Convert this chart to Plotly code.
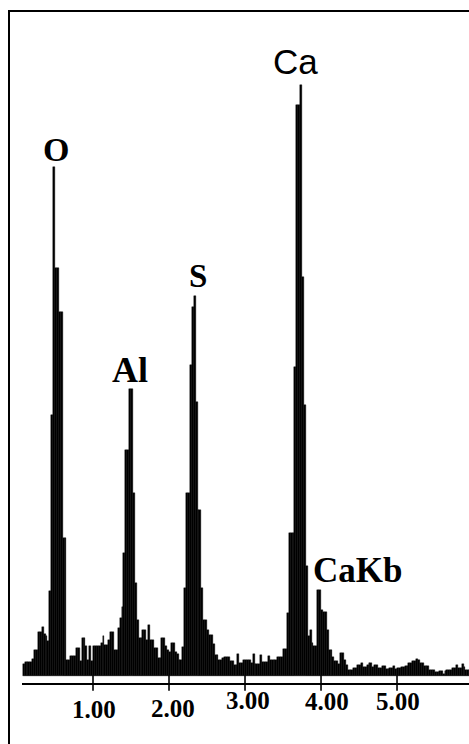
import numpy as np
import plotly.graph_objects as go

# ---- data -------------------------------------------------------------
CH0 = 0.075        # keV, start of first channel
CH_WIDTH = 0.025   # keV per channel
COUNTS = [
    12, 14, 14, 14, 14, 17, 26, 26, 44, 44,
    49, 42, 40, 35, 85, 261, 509, 408, 408, 364,
    364, 138, 138, 16, 16, 20, 20, 20, 28, 28,
    15, 38, 38, 30, 16, 30, 15, 30, 30, 30,
    30, 33, 40, 31, 31, 36, 44, 44, 26, 26,
    48, 58, 69, 123, 226, 226, 287, 287, 183, 93,
    56, 38, 38, 46, 46, 36, 51, 36, 36, 28,
    28, 18, 18, 38, 38, 30, 26, 24, 33, 33,
    24, 22, 16, 16, 29, 88, 183, 183, 311, 369,
    380, 274, 166, 166, 88, 56, 56, 46, 41, 41,
    32, 21, 21, 16, 16, 18, 19, 19, 19, 15,
    15, 11, 11, 22, 13, 13, 16, 16, 16, 16,
    13, 22, 12, 12, 12, 21, 14, 14, 14, 20,
    16, 16, 16, 16, 19, 19, 19, 27, 27, 63,
    143, 143, 143, 309, 571, 571, 591, 399, 271, 110,
    40, 46, 33, 30, 30, 86, 86, 66, 64, 64,
    46, 26, 26, 19, 15, 15, 12, 23, 23, 16,
    11, 6, 6, 6, 8, 8, 11, 11, 13, 9,
    9, 11, 13, 13, 9, 11, 11, 8, 8, 10,
    10, 7, 7, 8, 8, 10, 7, 8, 8, 9,
    9, 10, 10, 13, 13, 15, 15, 17, 16, 13,
    13, 10, 10, 10, 6, 6, 6, 4, 4, 5,
    5, 2, 5, 6, 6, 6, 8, 8, 11, 8,
    8, 12, 9, 6, 6, 6,
]
ENERGY = CH0 + CH_WIDTH * (np.arange(len(COUNTS)) + 0.5)

TICK_VALUES = [1.0, 2.0, 3.0, 4.0, 5.0]
TICK_TEXT = ["1.00", "2.00", "3.00", "4.00", "5.00"]

PEAK_LABELS = ["O", "Al", "S", "Ca", "CaKb"]
LABEL_E = [0.509, 1.487, 2.382, 3.664, 4.48]
LABEL_Y = [527, 306, 400, 615, 106]

# ---- layout constants -------------------------------------------------
W, H = 469, 744
ML, MR, MT, MB = 22, 0, 20, 61
PLOT_H = H - MT - MB
X_RANGE = [0.0658, 5.947]
Y_RANGE = [-7, 656]

fig = go.Figure()

fig.add_trace(go.Bar(
    x=ENERGY, y=COUNTS, width=CH_WIDTH,
    marker=dict(color="black", line=dict(color="black", width=0.4)),
    hoverinfo="skip", showlegend=False,
))

# tick marks crossing the axis line
fig.add_trace(go.Scatter(
    x=TICK_VALUES, y=[Y_RANGE[0]] * len(TICK_VALUES), mode="markers",
    marker=dict(symbol="line-ns", size=11, line=dict(color="black", width=1.6)),
    cliponaxis=False, hoverinfo="skip", showlegend=False,
))

annotations = []
# tick labels (slightly staggered as in the scan)
tick_dx = [1, 3.5, 3, 6, 1]
tick_py = [709, 708, 701, 702, 702]
for v, t, dx, py in zip(TICK_VALUES, TICK_TEXT, tick_dx, tick_py):
    annotations.append(dict(
        x=v, xref="x", y=(H - MB - py) / PLOT_H, yref="paper",
        text=t, showarrow=False, xshift=dx, xanchor="center", yanchor="middle",
        font=dict(family="Liberation Serif", size=25, color="black", weight="bold"),
    ))

label_fonts = [
    dict(family="Liberation Serif", size=34, color="black", weight="bold"),
    dict(family="Liberation Serif", size=36, color="black", weight="bold"),
    dict(family="Liberation Serif", size=33, color="black", weight="bold"),
    dict(family="Liberation Sans", size=35, color="black"),
    dict(family="Liberation Serif", size=35, color="black", weight="bold"),
]
for lab, e, yv, f in zip(PEAK_LABELS, LABEL_E, LABEL_Y, label_fonts):
    annotations.append(dict(
        x=e, y=yv, xref="x", yref="y", text=lab, showarrow=False,
        xanchor="center", yanchor="middle", font=f,
    ))

shapes = [
    # outer frame of the figure (runs off the right and bottom edges)
    dict(type="rect", xref="paper", yref="paper",
         x0=(9 - ML) / (W - ML - MR), x1=1.05,
         y0=-0.2, y1=(H - MB - 11) / PLOT_H,
         line=dict(color="black", width=2), fillcolor="rgba(0,0,0,0)"),
]

fig.update_layout(
    width=W, height=H,
    margin=dict(l=ML, r=MR, t=MT, b=MB),
    paper_bgcolor="white", plot_bgcolor="white",
    bargap=0,
    xaxis=dict(range=X_RANGE, showgrid=False, zeroline=False,
               showline=True, linecolor="black", linewidth=2,
               ticks="", showticklabels=False, fixedrange=True),
    yaxis=dict(range=Y_RANGE, showgrid=False, zeroline=False,
               showline=False, ticks="", showticklabels=False, fixedrange=True),
    annotations=annotations,
    shapes=shapes,
    showlegend=False,
)

fig.write_html(
    "out.html",
    config={"displayModeBar": False},
    post_script="document.body.style.margin='0';document.body.style.overflow='hidden';",
)
